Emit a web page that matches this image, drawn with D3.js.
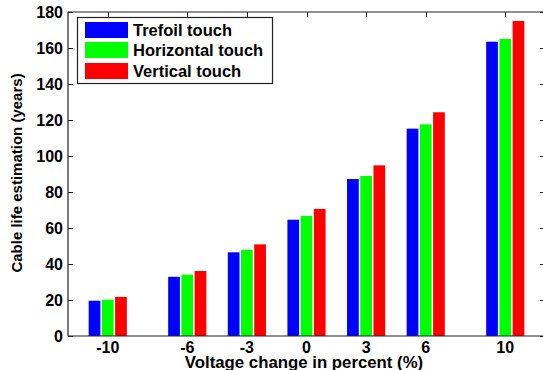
<!DOCTYPE html>
<html>
<head>
<meta charset="utf-8">
<script src="https://cdn.jsdelivr.net/npm/d3@7"></script>
<style>
  html, body { margin: 0; padding: 0; background: #fff; }
  svg { display: block; font-family: "Liberation Sans", Arial, sans-serif; }
</style>
</head>
<body>
<svg id="chart" width="543" height="370"></svg>
<script>
const categories = [-10, -6, -3, 0, 3, 6, 10];
const seriesNames = ["Trefoil touch", "Horizontal touch", "Vertical touch"];
const trefoil    = [19.6, 32.9, 46.5, 64.6, 87.2, 115.2, 163.5];
const horizontal = [20.2, 34.1, 47.9, 66.7, 88.9, 117.6, 165.0];
const vertical   = [21.7, 36.1, 50.9, 70.6, 94.8, 124.3, 175.0];
const yTicks = [0, 20, 40, 60, 80, 100, 120, 140, 160, 180];
const colors = ["#0000ff", "#00ff00", "#ff0000"];

const series = [trefoil, horizontal, vertical];

const svg = d3.select("#chart");
const L = 68, R = 545, T = 12, B = 336;

const x = d3.scaleLinear().domain([-12, 12]).range([L, R]);
const y = d3.scaleLinear().domain([0, 180]).range([B, T]);

const offsets = [-0.665, 0, 0.665];
const barW = 0.59;

// ticks (inward), drawn below bars
const tickLen = 5;
const tg = svg.append("g").attr("stroke", "#222").attr("stroke-width", 1);
categories.forEach(c => {
  const px = Math.round(x(c)) + 0.5;
  tg.append("line").attr("x1", px).attr("x2", px).attr("y1", T).attr("y2", T + tickLen);
  tg.append("line").attr("x1", px).attr("x2", px).attr("y1", B).attr("y2", B - tickLen);
});
yTicks.forEach(v => {
  const py = Math.round(y(v)) + 0.5;
  tg.append("line").attr("x1", L).attr("x2", L + tickLen).attr("y1", py).attr("y2", py);
  tg.append("line").attr("x1", R).attr("x2", R - tickLen).attr("y1", py).attr("y2", py);
});

// bars
series.forEach((vals, si) => {
  svg.append("g").selectAll("rect").data(vals).join("rect")
    .attr("x", (d, i) => x(categories[i] + offsets[si] - barW / 2))
    .attr("width", x(barW) - x(0))
    .attr("y", d => y(d))
    .attr("height", d => y(0) - y(d))
    .attr("fill", colors[si]);
});

// axes box
const box = svg.append("g").attr("stroke", "#222").attr("stroke-width", 1.2).attr("fill", "none");
box.append("line").attr("x1", L).attr("x2", R).attr("y1", T).attr("y2", T);
box.append("line").attr("x1", L).attr("x2", R).attr("y1", B).attr("y2", B);
box.append("line").attr("x1", L).attr("x2", L).attr("y1", T).attr("y2", B);
box.append("line").attr("x1", R).attr("x2", R).attr("y1", T).attr("y2", B);

// y tick labels
svg.append("g").selectAll("text").data(yTicks).join("text")
  .attr("x", L - 5)
  .attr("y", d => y(d))
  .attr("dy", "0.36em")
  .attr("text-anchor", "end")
  .attr("font-size", 16)
  .attr("font-weight", "bold")
  .attr("fill", "#000")
  .text(d => d);

// x tick labels
svg.append("g").selectAll("text").data(categories).join("text")
  .attr("x", d => x(d))
  .attr("y", 353)
  .attr("text-anchor", "middle")
  .attr("font-size", 16)
  .attr("font-weight", "bold")
  .attr("fill", "#000")
  .text(d => d);

// axis titles
svg.append("text")
  .attr("x", (183 + 425) / 2)
  .attr("y", 367.5)
  .attr("text-anchor", "middle")
  .attr("font-size", 16.8)
  .attr("font-weight", "bold")
  .attr("fill", "#000")
  .text("Voltage change in percent (%)");

svg.append("text")
  .attr("transform", "translate(22," + 173 + ") rotate(-90)")
  .attr("text-anchor", "middle")
  .attr("font-size", 15)
  .attr("font-weight", "bold")
  .attr("fill", "#000")
  .text("Cable life estimation (years)");

// legend
const lg = svg.append("g");
lg.append("rect").attr("x", 77.5).attr("y", 17.5).attr("width", 195).attr("height", 66)
  .attr("fill", "#fff").attr("stroke", "#222").attr("stroke-width", 1.2);
const rowY = [22, 42, 63];
seriesNames.forEach((name, i) => {
  lg.append("rect").attr("x", 85).attr("y", rowY[i]).attr("width", 43).attr("height", 16)
    .attr("fill", colors[i]);
  lg.append("text").attr("x", 133).attr("y", rowY[i] + 13.5)
    .attr("font-size", 16.5).attr("font-weight", "bold").attr("fill", "#000")
    .text(name);
});
</script>
</body>
</html>
